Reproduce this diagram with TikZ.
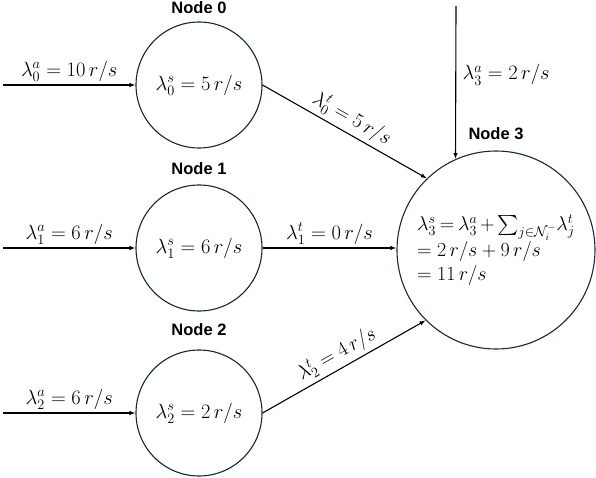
\documentclass[tikz,border=0pt]{standalone}
\usepackage{fix-cm}
\usepackage{amsmath, amssymb}
\usepackage{fontspec}
\newfontfamily\titlefont{Liberation Sans}
\usetikzlibrary{arrows.meta, positioning}
\definecolor{rim}{RGB}{22,40,60}

\begin{document}
\begin{tikzpicture}[x=1pt, y=-1pt,
    server/.style={circle, draw=rim, line width=1.1pt, minimum size=126pt, inner sep=0pt, font=\fontsize{20.5}{24}\selectfont},
    title/.style={font=\titlefont\bfseries\fontsize{16.5}{19}\selectfont, inner sep=0pt},
    flow/.style={-{Latex[length=6pt,width=4.5pt]}, line width=1.1pt},
    rate/.style={font=\fontsize{20.5}{24}\selectfont}]
  \useasboundingbox (0,0) rectangle (596,478);

  % servers
  \node[server] (n0) at (199,85) {$\lambda_0^s = 5\,r/s$};
  \node[server] (n1) at (199,248) {$\lambda_1^s = 6\,r/s$};
  \node[server] (n2) at (199,413) {$\lambda_2^s = 2\,r/s$};
  \node[server, minimum size=198pt, align=left, font=\fontsize{20}{24.5}\selectfont] (n3) at (496,250)
    {$\thickmuskip=3.5mu\medmuskip=2.5mu
      \lambda_3^s = \lambda_3^a + \textstyle\sum_{j\in\mathcal{N}_i^-}\!\lambda_j^t$\\
     $= 2\,r/s + 9\,r/s$\\
     $= 11\,r/s$};

  \node[title, above=8pt of n0] (t0) {Node 0};
  \node[title, above=10pt of n1] (t1) {Node 1};
  \node[title, above=14pt of n2] (t2) {Node 2};
  \node[title, above=11pt of n3] (t3) {Node 3};

  % arrivals
  \coordinate (in0) at (3,85);
  \coordinate (in1) at (3,248);
  \coordinate (in2) at (3,413);
  \coordinate (in3) at (456,6);
  \draw[flow] (in0) -- (n0) node[rate, midway, above] {$\lambda_0^a = 10\,r/s$};
  \draw[flow] (in1) -- (n1) node[rate, midway, above] {$\lambda_1^a = 6\,r/s$};
  \draw[flow] (in2) -- (n2) node[rate, midway, above] {$\lambda_2^a = 6\,r/s$};
  \draw[flow] (in3) -- (n3.114) node[rate, pos=0.45, right=3pt] {$\lambda_3^a = 2\,r/s$};

  % transfers
  \draw[flow] (n0.east) -- (n3.134) node[rate, midway, above, sloped] {$\lambda_0^t = 5\,r/s$};
  \draw[flow] (n1.east) -- (n1.east -| n3.west) node[rate, midway, above] {$\lambda_1^t = 0\,r/s$};
  \draw[flow] (n2.east) -- (n3.225) node[rate, midway, above, sloped] {$\lambda_2^t = 4\,r/s$};
\end{tikzpicture}
\end{document}
